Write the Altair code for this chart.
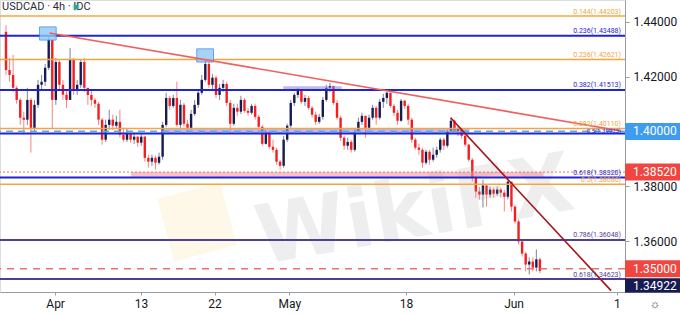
import json
import altair as alt
import pandas as pd
import numpy as np

# ---------------- data ----------------
first_open = 1.4363
close = [1.4224, 1.4206, 1.4159, 1.4115, 1.4050, 1.4043, 1.4115, 1.4013, 1.4097, 1.4170,
         1.4181, 1.4232, 1.4333, 1.4115, 1.4253, 1.4170, 1.4134, 1.4115, 1.4261, 1.4152,
         1.4170, 1.4253, 1.4159, 1.4133, 1.4115, 1.4101, 1.4043, 1.3970, 1.4024, 1.4043,
         1.4021, 1.4035, 1.3988, 1.3970, 1.3995, 1.3970, 1.3981, 1.3959, 1.3981, 1.3904,
         1.3890, 1.3904, 1.3886, 1.3908, 1.4024, 1.4122, 1.4093, 1.4122, 1.4024, 1.4097,
         1.4028, 1.4013, 1.4064, 1.4097, 1.4141, 1.4188, 1.4246, 1.4170, 1.4196, 1.4133,
         1.4159, 1.4173, 1.4104, 1.4028, 1.4086, 1.4072, 1.4115, 1.4075, 1.4068, 1.4093,
         1.4053, 1.4017, 1.3955, 1.3995, 1.3944, 1.3933, 1.3890, 1.3875, 1.3970, 1.4021,
         1.4104, 1.4133, 1.4152, 1.4108, 1.4122, 1.4086, 1.4061, 1.4035, 1.4053, 1.4115,
         1.4159, 1.4166, 1.4104, 1.4050, 1.3977, 1.3948, 1.3962, 1.3933, 1.3999, 1.4035,
         1.4057, 1.4013, 1.4050, 1.4086, 1.4050, 1.4108, 1.4122, 1.4141, 1.4093, 1.4068,
         1.4039, 1.4112, 1.4093, 1.4043, 1.3970, 1.3941, 1.3933, 1.3886, 1.3926, 1.3897,
         1.3915, 1.3933, 1.3970, 1.3948, 1.3999, 1.4039, 1.4002, 1.4010, 1.3984, 1.3952,
         1.3897, 1.3832, 1.3781, 1.3770, 1.3803, 1.3770, 1.3788, 1.3773, 1.3788, 1.3777,
         1.3762, 1.3817, 1.3726, 1.3672, 1.3599, 1.3555, 1.3515, 1.3526, 1.3504, 1.3534,
         1.3492]
high = [1.4388, 1.4268, 1.4279, 1.4166, 1.4122, 1.4072, 1.4159, 1.4122, 1.4115, 1.4188,
        1.4206, 1.4246, 1.4351, 1.4333, 1.4268, 1.4261, 1.4188, 1.4152, 1.4304, 1.4268,
        1.4188, 1.4261, 1.4268, 1.4159, 1.4152, 1.4122, 1.4108, 1.4050, 1.4043, 1.4079,
        1.4061, 1.4057, 1.4079, 1.4013, 1.4013, 1.3995, 1.3992, 1.3984, 1.3992, 1.3984,
        1.3915, 1.3915, 1.3912, 1.3923, 1.4035, 1.4141, 1.4130, 1.4133, 1.4181, 1.4115,
        1.4104, 1.4043, 1.4079, 1.4115, 1.4152, 1.4206, 1.4261, 1.4253, 1.4210, 1.4203,
        1.4173, 1.4188, 1.4181, 1.4115, 1.4101, 1.4101, 1.4130, 1.4122, 1.4086, 1.4101,
        1.4101, 1.4061, 1.4024, 1.4006, 1.4002, 1.3970, 1.3941, 1.3897, 1.3984, 1.4028,
        1.4115, 1.4141, 1.4159, 1.4152, 1.4133, 1.4130, 1.4093, 1.4072, 1.4064, 1.4126,
        1.4170, 1.4177, 1.4166, 1.4115, 1.4057, 1.3984, 1.3977, 1.3970, 1.4013, 1.4050,
        1.4068, 1.4057, 1.4061, 1.4097, 1.4093, 1.4119, 1.4137, 1.4144, 1.4137, 1.4101,
        1.4079, 1.4119, 1.4115, 1.4101, 1.4050, 1.3977, 1.3955, 1.3941, 1.3933, 1.3933,
        1.3941, 1.3944, 1.3977, 1.3977, 1.4006, 1.4050, 1.4043, 1.4021, 1.4013, 1.3995,
        1.3955, 1.3904, 1.3839, 1.3799, 1.3824, 1.3806, 1.3799, 1.3795, 1.3799, 1.3795,
        1.3788, 1.3821, 1.3814, 1.3733, 1.3679, 1.3606, 1.3562, 1.3541, 1.3541, 1.3570,
        1.3541]
low = [1.4206, 1.4181, 1.4144, 1.4101, 1.4024, 1.3988, 1.4024, 1.3923, 1.3999, 1.4086,
       1.4152, 1.4166, 1.4224, 1.4013, 1.4097, 1.4152, 1.4115, 1.4086, 1.4115, 1.4133,
       1.4133, 1.4159, 1.4144, 1.4097, 1.4093, 1.4086, 1.4024, 1.3952, 1.3962, 1.4006,
       1.4006, 1.4013, 1.3977, 1.3962, 1.3962, 1.3959, 1.3955, 1.3944, 1.3948, 1.3890,
       1.3868, 1.3875, 1.3861, 1.3879, 1.3897, 1.4017, 1.4079, 1.4086, 1.4017, 1.4013,
       1.4017, 1.3999, 1.4006, 1.4057, 1.4086, 1.4133, 1.4181, 1.4159, 1.4152, 1.4122,
       1.4115, 1.4144, 1.4093, 1.3999, 1.4021, 1.4057, 1.4064, 1.4068, 1.4057, 1.4061,
       1.4043, 1.4010, 1.3948, 1.3952, 1.3937, 1.3923, 1.3879, 1.3861, 1.3868, 1.3962,
       1.4013, 1.4093, 1.4122, 1.4101, 1.4093, 1.4079, 1.4050, 1.4024, 1.4028, 1.4043,
       1.4108, 1.4144, 1.4097, 1.4043, 1.3966, 1.3933, 1.3933, 1.3923, 1.3926, 1.3992,
       1.4024, 1.3977, 1.4006, 1.4043, 1.4024, 1.4043, 1.4086, 1.4101, 1.4086, 1.4057,
       1.4024, 1.4035, 1.4082, 1.4024, 1.3959, 1.3933, 1.3915, 1.3868, 1.3879, 1.3879,
       1.3890, 1.3904, 1.3923, 1.3933, 1.3941, 1.3992, 1.3995, 1.3984, 1.3973, 1.3944,
       1.3890, 1.3817, 1.3759, 1.3752, 1.3723, 1.3726, 1.3759, 1.3759, 1.3766, 1.3759,
       1.3708, 1.3752, 1.3708, 1.3664, 1.3588, 1.3544, 1.3490, 1.3479, 1.3490, 1.3490,
       1.3483]

# x axis ticks (bar-index positions) and labels
xtick_pos = [13.8, 37.9, 58.6, 79.6, 112.4, 142.6, 171.6]
xtick_lab = ["Apr", "13", "22", "May", "18", "Jun", "1"]
ytick_vals = [1.36, 1.38, 1.42, 1.44]

# fibonacci / level lines
fib_prices = [1.44203, 1.43488, 1.42621, 1.41513, 1.40110, 1.39923, 1.38320, 1.38080, 1.36048, 1.34623]
fib_kind = ["o", "b", "o", "b", "o", "b", "b", "o", "p", "p"]
fib_text = ["0.144(1.44203)", "0.236(1.43488)", "0.236(1.42621)", "0.382(1.41513)", "0.382(1.40110)",
            "0.5(1.39923)", "0.618(1.38320)", "0.5(1.38080)", "0.786(1.36048)", "0.618(1.34623)"]

# zones (x in bar index, y in price)
zone_x = [43.9, 77.9, 35.1]
zone_x2 = [130.2, 94.3, 151.0]
zone_y = [1.4011, 1.4165, 1.3852]
zone_y2 = [1.3992, 1.4151, 1.3835]
zone_col = ["#8f80dd", "#8f80dd", "#f08fa0"]

# highlighted peaks (blue boxes)
box_x = [9.4, 53.6]
box_x2 = [14.1, 58.3]
box_y = [1.4381, 1.4301]
box_y2 = [1.4333, 1.4253]

# trend lines
tl_x = [12.2, 124.9]
tl_x2 = [172.5, 170.0]
tl_y = [1.4359, 1.4050]
tl_y2 = [1.40025, 1.3420]
tl_col = ["#f0605e", "#a3161a"]

# price tags on the axis
tag_price = [1.40000, 1.38520, 1.35000, 1.34922]
tag_text = ["1.40000", "1.38520", "1.35000", "1.34922"]
tag_col = ["#3d9bf0", "#f0463f", "#f0463f", "#161b52"]

# ---------------- frames ----------------
opens = [first_open] + close[:-1]
df = pd.DataFrame({"i": range(len(close)), "open": opens, "close": close, "high": high, "low": low})
df["hi"] = df[["high", "open", "close"]].max(axis=1)
df["lo"] = df[["low", "open", "close"]].min(axis=1)
df["dir"] = np.where(df["close"] >= df["open"], "up", "down")

col_map = {"o": "#f7a43c", "b": "#1f26d0", "p": "#4e3f99"}
wid_map = {"o": 1.5, "b": 2.0, "p": 2.0}
fib = pd.DataFrame({"price": fib_prices, "kind": fib_kind, "text": fib_text})
fib["color"] = fib["kind"].map(col_map)
fib["w"] = fib["kind"].map(wid_map)
fib_main = fib[fib["text"] != "0.5(1.39923)"]
fib_mid = fib[fib["text"] == "0.5(1.39923)"]

zones = pd.DataFrame({"x": zone_x, "x2": zone_x2, "y": zone_y, "y2": zone_y2, "c": zone_col})
boxes = pd.DataFrame({"x": box_x, "x2": box_x2, "y": box_y, "y2": box_y2})
tls = pd.DataFrame({"x": tl_x, "x2": tl_x2, "y": tl_y, "y2": tl_y2, "c": tl_col})
tags = pd.DataFrame({"price": tag_price, "text": tag_text, "c": tag_col})

xs = alt.Scale(domain=[-0.28, 172.5], nice=False, zero=False)
ys = alt.Scale(domain=[1.3415, 1.4479], nice=False, zero=False)

label_expr = "%s[indexof(%s, datum.value)]" % (json.dumps(xtick_lab), json.dumps(xtick_pos))
AX = alt.Axis(values=xtick_pos, labelExpr=label_expr, grid=False, tickSize=3, labelPadding=3,
              labelFontSize=12, labelColor="#131722", labelFont="Roboto", domainColor="#9a9ca3",
              tickColor="#9a9ca3", labelFlush=False, title=None)
AY = alt.Axis(orient="right", values=ytick_vals, format=".5f", grid=False, tickSize=4,
              labelPadding=4, labelFontSize=12, labelColor="#131722", labelFont="Roboto",
              domainColor="#9a9ca3", tickColor="#9a9ca3", title=None)


def X(f):
    return alt.X(f, type="quantitative", scale=xs, axis=AX, title=None)


def Y(f):
    return alt.Y(f, type="quantitative", scale=ys, axis=AY, title=None)


# zones
zone_layer = alt.Chart(zones).mark_rect(opacity=0.55).encode(
    x=X("x"), x2="x2", y=Y("y"), y2="y2", color=alt.Color("c:N", scale=None))
box_layer = alt.Chart(boxes).mark_rect(fill="#90c8f6", opacity=0.8, stroke="#3b8fe8", strokeWidth=1).encode(
    x=X("x"), x2="x2", y=Y("y"), y2="y2")

# horizontal lines
fib_lines = alt.Chart(fib).mark_rule().encode(
    y=Y("price"), color=alt.Color("color:N", scale=None), strokeWidth=alt.StrokeWidth("w:Q", scale=None))
lvl_140 = alt.Chart(pd.DataFrame({"p": [1.40]})).mark_rule(color="#5aaaf2", strokeWidth=2, strokeDash=[7, 5]).encode(y=Y("p"))
lvl_135 = alt.Chart(pd.DataFrame({"p": [1.35]})).mark_rule(color="#e8736b", strokeWidth=1.5, strokeDash=[7, 6]).encode(y=Y("p"))
lvl_1385 = alt.Chart(pd.DataFrame({"p": [1.3852]})).mark_rule(color="#e8736b", strokeWidth=1, strokeDash=[2, 2]).encode(y=Y("p"))

# candles
cscale = alt.Scale(domain=["up", "down"], range=["#161b52", "#f51d1d"])
wicks = alt.Chart(df).mark_rule(strokeWidth=1, opacity=0.55).encode(
    x=X("i"), y=Y("lo"), y2="hi", color=alt.Color("dir:N", scale=cscale, legend=None))
bodies = alt.Chart(df).mark_bar(size=2.4).encode(
    x=X("i"), y=Y("open"), y2="close", color=alt.Color("dir:N", scale=cscale, legend=None))

# trend lines
trend = alt.Chart(tls).mark_rule(strokeWidth=1.6).encode(
    x=X("x"), x2="x2", y=Y("y"), y2="y2", color=alt.Color("c:N", scale=None))

# fib labels
fib_labels = alt.Chart(fib_main).mark_text(align="right", baseline="bottom", dy=-1.5, fontSize=7, font="Roboto").encode(
    x=alt.value(621), y=Y("price"), text="text:N", color=alt.Color("color:N", scale=None))
fib_label_mid = alt.Chart(fib_mid).mark_text(align="right", baseline="bottom", dy=0, fontSize=6, font="Roboto").encode(
    x=alt.value(621), y=Y("price"), text="text:N", color=alt.Color("color:N", scale=None))

# price tags
tag_main = tags[tags["text"] != "1.34922"]
tag_last = tags[tags["text"] == "1.34922"]
tag_rect = alt.Chart(tag_main).mark_rect(yOffset=-8.5, y2Offset=8.5).encode(
    x=alt.value(625), x2=alt.value(680), y=Y("price"), y2="price", color=alt.Color("c:N", scale=None))
tag_txt = alt.Chart(tag_main).mark_text(align="left", baseline="middle", fontSize=12, font="Roboto", color="white").encode(
    x=alt.value(633), y=Y("price"), text="text:N")
last_rect = alt.Chart(tag_last).mark_rect(yOffset=7.5, y2Offset=22).encode(
    x=alt.value(625), x2=alt.value(680), y=Y("price"), y2="price", color=alt.Color("c:N", scale=None))
last_txt = alt.Chart(tag_last).mark_text(align="left", baseline="middle", fontSize=12, font="Roboto", color="white", dy=15).encode(
    x=alt.value(633), y=Y("price"), text="text:N")

# title, watermark, icon
title = alt.Chart(pd.DataFrame({"t": ["USDCAD · 4h · IDC"]})).mark_text(
    align="left", baseline="middle", fontSize=11, font="Roboto", color="#2a2e39").encode(
    x=alt.value(2), y=alt.value(7), text="t:N")
dot = alt.Chart(pd.DataFrame({"t": [1]})).mark_point(filled=True, size=20, color="#26a69a", opacity=1).encode(
    x=alt.value(76), y=alt.value(7))
dot_ring = alt.Chart(pd.DataFrame({"t": [1]})).mark_point(filled=True, size=70, color="#26a69a", opacity=0.2).encode(
    x=alt.value(76), y=alt.value(7))
wm_logo = alt.Chart(pd.DataFrame({"t": [1]})).mark_point(shape="square", filled=True, size=4200, color="#f7e7b0",
                                                          opacity=0.3, angle=345).encode(
    x=alt.value(197), y=alt.value(222))
wm_text = alt.Chart(pd.DataFrame({"t": ["WikiFX"]})).mark_text(
    fontSize=82, fontWeight="bold", font="DejaVu Sans", color="#9a9a9a", opacity=0.16, angle=350).encode(
    x=alt.value(415), y=alt.value(212), text="t:N")
gear = alt.Chart(pd.DataFrame({"t": ["☼"]})).mark_text(fontSize=12, color="#555").encode(
    x=alt.value(655), y=alt.value(304), text="t:N")

chart = alt.layer(
    wicks, bodies, wm_logo, wm_text, zone_layer, fib_lines, lvl_140, lvl_135, lvl_1385, box_layer,
    trend, fib_labels, fib_label_mid, tag_rect, tag_txt, last_rect, last_txt, title, dot_ring, dot, gear
).properties(
    width=625, height=292,
    padding={"left": 0, "top": 0, "right": 55, "bottom": 22},
    autosize=alt.AutoSizeParams(type="none"),
).configure_view(stroke=None).configure(background="white")

chart.save("out.html", embed_options={"renderer": "svg", "actions": False})
